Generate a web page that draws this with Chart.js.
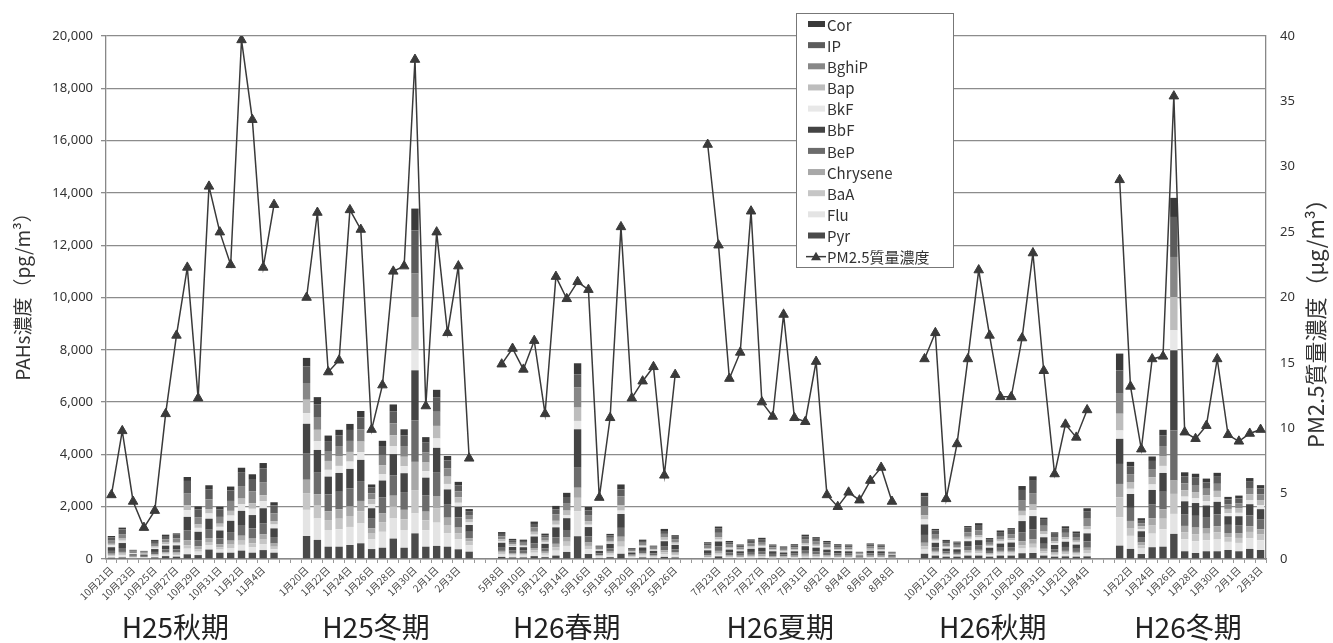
<!DOCTYPE html>
<html>
<head>
<meta charset="utf-8">
<script src="https://cdn.jsdelivr.net/npm/chart.js@4"></script>
<style>
  html, body { margin: 0; padding: 0; background: #fff; }
  #wrap { width: 1333px; height: 643px; }
</style>
</head>
<body>
<div id="wrap"><canvas id="pahChart" width="1333" height="643"></canvas></div>
<script>
// category labels, two empty slots between the sampling periods
const dateLabels = [
  '10月21日','10月22日','10月23日','10月24日','10月25日','10月26日','10月27日','10月28日','10月29日','10月30日','10月31日','11月1日','11月2日','11月3日','11月4日','11月5日', '', '',
  '1月20日','1月21日','1月22日','1月23日','1月24日','1月25日','1月26日','1月27日','1月28日','1月29日','1月30日','1月31日','2月1日','2月2日','2月3日','2月4日', '', '',
  '5月8日','5月9日','5月10日','5月11日','5月12日','5月13日','5月14日','5月15日','5月16日','5月17日','5月18日','5月19日','5月20日','5月21日','5月22日','5月23日','5月26日', '', '',
  '7月22日','7月23日','7月24日','7月25日','7月26日','7月27日','7月28日','7月29日','7月30日','7月31日','8月1日','8月2日','8月3日','8月4日','8月5日','8月6日','8月7日','8月8日', '', '',
  '10月20日','10月21日','10月22日','10月23日','10月24日','10月25日','10月26日','10月27日','10月28日','10月29日','10月30日','10月31日','11月1日','11月2日','11月3日','11月4日', '', '',
  '1月21日','1月22日','1月23日','1月24日','1月25日','1月26日','1月27日','1月28日','1月29日','1月30日','1月31日','2月1日','2月2日','2月3日'
];

const periodNames = ['H25秋期', 'H25冬期', 'H26春期', 'H26夏期', 'H26秋期', 'H26冬期'];

// PAHs (pg/m3), one array per compound, bottom of the stack first
const pyr = [
  50,60,30,30,60,110,90,180,150,360,240,240,320,240,340,240, null,null,
  880,730,470,470,535,600,380,430,780,430,980,470,500,470,370,280, null,null,
  80,60,60,110,70,130,270,870,190,40,70,200,30,60,40,80,60, null,null,
  30,100,30,25,30,40,25,20,25,40,35,30,25,25,15,25,25,15, null,null,
  200,130,90,90,130,130,90,130,130,220,230,130,90,100,90,100, null,null,
  510,385,190,450,470,960,295,230,295,295,345,295,385,345
];
const flu = [
  60,80,20,20,50,60,60,215,130,170,120,180,220,210,230,130, null,null,
  1000,820,640,670,690,760,370,610,770,680,765,630,890,520,390,240, null,null,
  90,70,70,130,90,190,230,960,180,50,90,270,40,70,40,110,80, null,null,
  30,60,30,30,40,40,20,20,30,40,40,30,30,30,10,30,30,10, null,null,
  160,70,45,40,80,90,50,70,70,180,200,100,65,80,70,130, null,null,
  1085,500,210,520,670,765,460,450,420,450,310,320,410,370
];
const baa = [
  40,60,20,10,30,40,50,130,90,120,90,130,160,150,170,100, null,null,
  640,490,380,400,420,460,220,370,460,410,890,380,540,310,230,150, null,null,
  70,50,50,90,60,130,160,510,130,30,60,190,30,50,30,70,60, null,null,
  20,50,30,20,30,30,20,20,20,40,30,30,20,20,10,20,20,10, null,null,
  120,50,30,30,60,60,40,50,50,130,150,70,45,60,50,90, null,null,
  765,300,120,310,400,765,270,270,250,270,180,190,240,220
];
const chrysene = [
  50,70,20,20,40,50,50,190,110,150,110,150,190,180,200,120, null,null,
  510,440,340,360,370,400,200,330,410,360,1080,330,480,280,210,130, null,null,
  70,50,50,90,60,130,160,385,130,30,60,190,30,40,40,70,60, null,null,
  60,100,60,50,60,70,50,40,50,80,70,60,50,50,20,50,50,20, null,null,
  140,60,40,35,70,70,40,60,60,150,180,90,55,70,60,110, null,null,
  510,270,110,280,360,510,240,250,220,240,160,170,220,200
];
const bep = [
  110,150,40,40,90,110,120,385,240,320,230,330,410,390,430,250, null,null,
  1020,820,640,670,690,760,370,610,770,680,1590,630,890,520,390,240, null,null,
  120,90,90,170,120,250,290,765,230,60,120,340,50,90,60,140,110, null,null,
  90,170,100,80,110,120,80,70,80,140,120,100,90,80,40,90,80,40, null,null,
  300,130,80,75,150,160,90,120,140,330,380,190,120,150,120,240, null,null,
  765,500,210,520,670,1915,450,450,420,450,310,320,410,370
];
const bbf = [
  140,190,50,50,110,140,150,510,320,420,300,430,540,510,570,330, null,null,
  1120,870,680,720,740,810,400,650,820,720,1910,670,950,560,410,260, null,null,
  190,140,130,270,180,380,450,1470,360,100,180,530,70,130,100,210,170, null,null,
  100,190,110,90,120,130,100,80,90,150,140,110,90,90,40,100,90,50, null,null,
  400,180,110,100,190,210,120,160,180,440,500,250,160,200,160,310, null,null,
  960,530,220,560,720,3065,490,490,440,480,330,340,430,400
];
const bkf = [
  70,90,30,20,50,60,70,255,150,200,140,200,250,240,270,150, null,null,
  410,330,260,270,280,300,150,250,310,270,765,250,360,210,150,100, null,null,
  50,40,30,70,50,100,110,320,90,20,40,130,20,40,20,50,40, null,null,
  40,70,40,30,40,50,30,30,30,50,50,40,30,30,20,30,30,10, null,null,
  190,80,50,45,90,100,60,80,85,210,230,120,75,90,80,150, null,null,
  320,200,80,210,270,765,180,180,170,180,120,130,160,150
];
const bap = [
  60,80,20,20,50,60,60,190,130,170,120,180,220,210,230,130, null,null,
  510,440,340,360,370,400,200,330,410,360,1275,330,480,280,210,130, null,null,
  80,60,50,110,70,150,180,510,140,40,70,210,30,50,40,90,70, null,null,
  50,90,50,40,60,60,40,40,40,70,60,50,40,40,20,50,40,20, null,null,
  160,70,45,40,80,90,50,70,75,180,210,100,65,80,70,130, null,null,
  640,260,110,280,360,1275,240,240,220,240,160,170,220,200
];
const bghip = [
  120,170,50,40,100,120,140,445,280,370,260,380,480,450,500,290, null,null,
  640,490,380,400,420,460,220,370,460,410,1660,380,540,310,230,150, null,null,
  120,90,90,170,120,250,290,765,230,60,120,340,50,90,60,140,110, null,null,
  90,170,100,80,110,110,80,70,80,130,120,100,80,80,40,80,80,40, null,null,
  350,160,100,85,170,190,110,140,160,390,440,220,140,170,140,280, null,null,
  765,300,120,310,400,1530,270,270,250,270,180,190,240,220
];
const ip = [
  130,180,50,40,110,130,140,485,300,390,280,400,510,480,530,310, null,null,
  640,490,380,400,420,460,220,370,460,410,1655,380,540,310,230,150, null,null,
  90,70,70,130,90,190,230,510,180,50,90,260,40,70,50,110,90, null,null,
  90,160,90,70,100,110,70,60,80,130,110,90,70,70,40,80,80,40, null,null,
  370,160,100,90,180,200,110,150,170,410,470,230,150,180,150,290, null,null,
  895,300,120,310,400,1530,270,280,250,270,180,190,240,220
];
const cor = [
  50,70,20,20,40,50,50,150,110,150,110,150,190,180,200,120, null,null,
  320,270,210,220,230,250,120,200,260,230,830,210,300,170,130,80, null,null,
  70,50,50,90,60,130,160,420,130,30,60,190,30,50,30,80,60, null,null,
  40,80,50,40,50,50,40,30,40,60,60,50,40,40,20,40,30,20, null,null,
  140,60,40,35,60,70,40,60,60,150,170,80,55,70,60,110, null,null,
  640,170,70,170,220,730,150,150,140,150,100,110,140,130
];

// PM2.5 mass concentration (µg/m3)
const pm25 = [
  4.9,9.8,4.4,2.4,3.7,11.1,17.1,22.3,12.3,28.5,25.0,22.5,39.7,33.6,22.3,27.1, null,null,
  20.0,26.5,14.3,15.2,26.7,25.2,9.9,13.3,22.0,22.4,38.2,11.7,25.0,17.3,22.4,7.7, null,null,
  14.9,16.1,14.5,16.7,11.1,21.6,19.9,21.2,20.6,4.7,10.8,25.4,12.3,13.6,14.7,6.4,14.1, null,null,
  31.7,24.0,13.8,15.8,26.6,12.0,10.9,18.7,10.8,10.5,15.1,4.9,4.0,5.1,4.5,6.0,7.0,4.4, null,null,
  15.3,17.3,4.6,8.8,15.3,22.1,17.1,12.4,12.4,16.9,23.4,14.4,6.5,10.3,9.3,11.4, null,null,
  29.0,13.2,8.4,15.3,15.5,35.4,9.7,9.2,10.2,15.3,9.5,9.0,9.6,9.9
];

const compoundNames = ['Pyr', 'Flu', 'BaA', 'Chrysene', 'BeP', 'BbF', 'BkF', 'Bap', 'BghiP', 'IP', 'Cor'];
const compoundData = [pyr, flu, baa, chrysene, bep, bbf, bkf, bap, bghip, ip, cor];
const compoundColors = ['#4a4a4a', '#e4e4e4', '#c6c6c6', '#a8a8a8', '#6c6c6c', '#444444',
  '#e8e8e8', '#bdbdbd', '#878787', '#5c5c5c', '#3a3a3a'];

const CJK = "'Noto Sans CJK JP', 'Noto Sans', sans-serif";
const NUM = "'Noto Sans', 'DejaVu Sans', sans-serif";
const INK = '#333333';
const LINE_COLOR = '#3a3a3a';

// where the period names sit, as fractional category positions
const periodAt = [5.9, 24.4, 42.0, 61.7, 81.3, 99.3];

const barSets = compoundNames.map((name, i) => ({
  type: 'bar',
  label: name,
  data: compoundData[i],
  backgroundColor: compoundColors[i],
  borderWidth: 0,
  yAxisID: 'y',
  order: 1,
  categoryPercentage: 1,
  barPercentage: 0.68
}));

const pmSet = {
  type: 'line',
  label: 'PM2.5質量濃度',
  data: pm25,
  yAxisID: 'y1',
  order: 0,
  borderColor: LINE_COLOR,
  borderWidth: 1.5,
  backgroundColor: LINE_COLOR,
  pointStyle: 'triangle',
  pointRadius: 5.5,
  pointBorderWidth: 1,
  pointBackgroundColor: LINE_COLOR,
  tension: 0,
  spanGaps: false
};

// legend box sitting over the plot, like the original
const legendBox = {
  id: 'legendBox',
  afterDraw(chart) {
    const ctx = chart.ctx;
    const x = 796, y = 13, w = 157, h = 254;
    ctx.save();
    ctx.fillStyle = '#fff';
    ctx.fillRect(x, y, w, h);
    ctx.strokeStyle = '#777';
    ctx.lineWidth = 1;
    ctx.strokeRect(x + 0.5, y + 0.5, w, h);

    const items = chart.data.datasets.filter(d => d.type === 'bar').slice().reverse();
    ctx.font = '15px ' + CJK;
    ctx.textBaseline = 'middle';
    ctx.textAlign = 'left';
    items.forEach((d, i) => {
      const rowY = 24 + i * 21.15;
      ctx.fillStyle = d.backgroundColor;
      ctx.fillRect(808, rowY - 3, 17, 6);
      ctx.fillStyle = INK;
      ctx.fillText(d.label, 827, rowY + 1);
    });
    const rowY = 24 + items.length * 21.15;
    ctx.strokeStyle = LINE_COLOR;
    ctx.lineWidth = 1.5;
    ctx.beginPath();
    ctx.moveTo(806, rowY);
    ctx.lineTo(826, rowY);
    ctx.stroke();
    ctx.fillStyle = LINE_COLOR;
    ctx.beginPath();
    ctx.moveTo(816, rowY - 5);
    ctx.lineTo(821, rowY + 3.5);
    ctx.lineTo(811, rowY + 3.5);
    ctx.closePath();
    ctx.fill();
    ctx.fillStyle = INK;
    ctx.fillText(pmSet.label, 827, rowY + 1);
    ctx.restore();
  }
};

// axis titles (both read bottom to top) and period names under the axis
const extraText = {
  id: 'extraText',
  afterDraw(chart) {
    const ctx = chart.ctx;
    const area = chart.chartArea;
    ctx.save();
    ctx.fillStyle = INK;
    ctx.textAlign = 'center';
    ctx.textBaseline = 'middle';

    ctx.save();
    ctx.translate(23, 292);
    ctx.rotate(-Math.PI / 2);
    ctx.font = '19px ' + CJK;
    ctx.fillText('PAHs濃度（pg/m³）', 0, 0);
    ctx.restore();

    ctx.save();
    ctx.translate(1316, 318);
    ctx.rotate(-Math.PI / 2);
    ctx.font = '22px ' + CJK;
    ctx.fillText('PM2.5質量濃度（μg/m³）', 0, 0);
    ctx.restore();

    const xs = chart.scales.x;
    ctx.font = '28px ' + CJK;
    ctx.fillStyle = '#222';
    periodNames.forEach((name, i) => {
      ctx.fillText(name, xs.getPixelForValue(periodAt[i]), 627);
    });
    ctx.restore();
  }
};

const ctx = document.getElementById('pahChart').getContext('2d');
new Chart(ctx, {
  type: 'bar',
  data: {
    labels: dateLabels,
    datasets: [...barSets, pmSet]
  },
  options: {
    responsive: false,
    animation: false,
    devicePixelRatio: 1,
    layout: { padding: { top: 36, left: 0, right: 0, bottom: 0 } },
    plugins: {
      legend: { display: false },
      tooltip: { enabled: false }
    },
    scales: {
      x: {
        stacked: true,
        offset: true,
        grid: { display: true, drawOnChartArea: false, color: '#999', tickLength: 4, offset: true },
        border: { color: '#888', width: 1.5 },
        ticks: {
          autoSkip: false,
          minRotation: 45,
          maxRotation: 45,
          padding: 1,
          color: '#444',
          font: { size: 10, family: CJK },
          callback: function (v, i) { return i % 2 === 0 ? this.getLabelForValue(v) : ''; }
        },
        afterFit: s => { s.height = 84; }
      },
      y: {
        stacked: true,
        min: 0,
        max: 20000,
        ticks: {
          stepSize: 2000,
          padding: 8,
          color: INK,
          font: { size: 13, family: NUM },
          callback: v => v.toLocaleString('en-US')
        },
        grid: { color: '#8c8c8c', lineWidth: 1.3, tickLength: 5 },
        border: { color: '#888', width: 1.3 },
        afterFit: s => { s.width = 106; }
      },
      y1: {
        position: 'right',
        min: 0,
        max: 40,
        ticks: { stepSize: 5, padding: 14, color: INK, font: { size: 13, family: NUM } },
        grid: { drawOnChartArea: false, drawTicks: false },
        border: { color: '#888', width: 1.3 },
        afterFit: s => { s.width = 67; }
      }
    }
  },
  plugins: [legendBox, extraText]
});
</script>
</body>
</html>
